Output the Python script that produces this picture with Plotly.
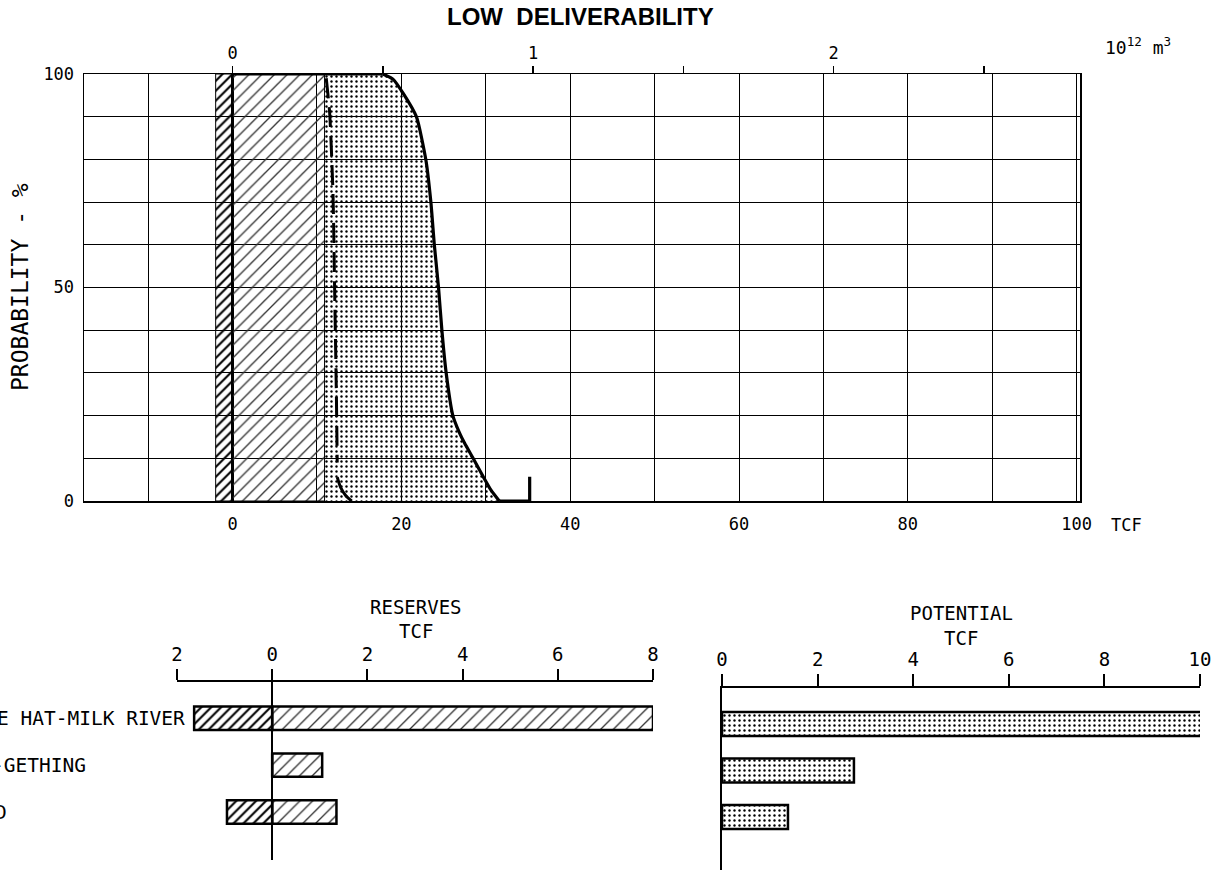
import plotly.graph_objects as go

# ---------------- data ----------------
tcf_tick_vals = [0, 20, 40, 60, 80, 100]
prob_tick_vals = [0, 50, 100]
m3_tick_vals = [0, 1, 2]
tcf_per_1e12_m3 = 35.6

reserves_total_low = -2.0
reserves_total_high = 10.9

total_tcf = [0, 17.8, 19.0, 20.2, 21.8, 22.9, 23.5, 23.9, 24.4, 24.8, 25.3, 26.1,
             26.9, 27.5, 28.5, 29.7, 30.6, 31.6, 35.2, 35.2]
total_prob = [100, 100, 98.8, 95.5, 89.9, 79.9, 69.9, 60.1, 50.0, 40.0, 30.1, 20.0,
              15.9, 13.5, 10.0, 5.7, 2.6, 0, 0, 5.7]

reserve_curve_tcf = [11.1, 11.5, 11.9, 12.1, 12.3, 12.4]
reserve_curve_prob = [99, 91, 72, 48.6, 25, 9]
reserve_tail_tcf = [12.4, 12.8, 13.4, 14.1]
reserve_tail_prob = [5.6, 3.2, 1.3, 0]

field_labels = ["E HAT-MILK RIVER", "-GETHING", "D"]
reserves_low = [-1.64, 0.0, -0.95]
reserves_high = [8.0, 1.05, 1.35]
reserves_tick_vals = [-2, 0, 2, 4, 6, 8]
reserves_tick_text = ["2", "0", "2", "4", "6", "8"]

potential = [10.1, 2.76, 1.38]
potential_tick_vals = [0, 2, 4, 6, 8, 10]

# ---------------- layout helpers ----------------
W, H = 1230, 874


def px(x):
    return x / W


def py(y):
    return 1 - y / H


FC = "DejaVu Sans Mono, Liberation Mono, monospace"
FT = "Liberation Sans, Arial, sans-serif"
BLACK = "black"
CLEAR = "rgba(0,0,0,0)"

hatch_solid = dict(shape="/", size=7, solidity=0.3, fgcolor=BLACK, bgcolor=CLEAR)
hatch_dash = dict(shape="/", size=9, solidity=0.15, fgcolor="#333", bgcolor=CLEAR)
dots = dict(shape=".", size=5, solidity=0.18, fgcolor=BLACK, bgcolor=CLEAR)

fig = go.Figure()

# --- top chart regions ---
fig.add_trace(go.Scatter(
    x=[reserves_total_low, 0, 0, reserves_total_low, reserves_total_low],
    y=[0, 0, 100, 100, 0], mode="lines", fill="toself", fillcolor=CLEAR,
    fillpattern=hatch_solid, line=dict(color=BLACK, width=1),
    xaxis="x", yaxis="y", showlegend=False, hoverinfo="skip"))
fig.add_trace(go.Scatter(
    x=[0, reserves_total_high, reserves_total_high, 0, 0],
    y=[0, 0, 100, 100, 0], mode="lines", fill="toself", fillcolor=CLEAR,
    fillpattern=hatch_dash, line=dict(color=BLACK, width=1),
    xaxis="x", yaxis="y", showlegend=False, hoverinfo="skip"))

# dotted region between total reserves and the total curve
dot_x = [reserves_total_high, reserves_total_high]
dot_y = [0, 100]
for xv, pv in zip(total_tcf, total_prob):
    if xv > reserves_total_high:
        dot_x.append(xv)
        dot_y.append(pv)
        if pv == 0:
            break
dot_x.append(reserves_total_high)
dot_y.append(0)
fig.add_trace(go.Scatter(
    x=dot_x, y=dot_y, mode="lines", fill="toself", fillcolor=CLEAR,
    line=dict(width=0, color=CLEAR), fillpattern=dots,
    xaxis="x", yaxis="y", showlegend=False, hoverinfo="skip"))

# reserves curve (dashed) and its solid tail
fig.add_trace(go.Scatter(
    x=reserve_curve_tcf, y=reserve_curve_prob, mode="lines",
    line=dict(color=BLACK, width=3, dash="20px,9px", shape="spline", smoothing=0.6),
    xaxis="x", yaxis="y", showlegend=False, hoverinfo="skip"))
fig.add_trace(go.Scatter(
    x=reserve_tail_tcf, y=reserve_tail_prob, mode="lines",
    line=dict(color=BLACK, width=3, shape="spline", smoothing=0.6),
    xaxis="x", yaxis="y", showlegend=False, hoverinfo="skip"))

# total curve: straight top, smooth drop, straight foot
knee_top = 1
knee_bot = total_prob.index(0)
fig.add_trace(go.Scatter(
    x=total_tcf[:knee_top + 1], y=total_prob[:knee_top + 1], mode="lines",
    line=dict(color=BLACK, width=3.2),
    xaxis="x", yaxis="y", showlegend=False, hoverinfo="skip"))
fig.add_trace(go.Scatter(
    x=total_tcf[knee_top:knee_bot + 1], y=total_prob[knee_top:knee_bot + 1], mode="lines",
    line=dict(color=BLACK, width=3.2, shape="spline", smoothing=0.5),
    xaxis="x", yaxis="y", showlegend=False, hoverinfo="skip"))
fig.add_trace(go.Scatter(
    x=total_tcf[knee_bot:], y=total_prob[knee_bot:], mode="lines",
    line=dict(color=BLACK, width=3.2),
    xaxis="x", yaxis="y", showlegend=False, hoverinfo="skip"))

# invisible carrier so the 10^12 m^3 axis is drawn
fig.add_trace(go.Scatter(
    x=m3_tick_vals, y=[100] * len(m3_tick_vals), mode="markers",
    marker=dict(opacity=0, size=1), xaxis="x2", yaxis="y",
    showlegend=False, hoverinfo="skip"))

# --- reserves bars ---
ypos = list(range(len(field_labels)))
fig.add_trace(go.Bar(
    y=ypos, x=reserves_low, base=0, orientation="h", width=0.5,
    marker=dict(color="white", line=dict(color=BLACK, width=2.5), pattern=hatch_solid),
    xaxis="x3", yaxis="y3", showlegend=False, hoverinfo="skip", cliponaxis=False))
fig.add_trace(go.Bar(
    y=ypos, x=reserves_high, base=0, orientation="h", width=0.5,
    marker=dict(color="white", line=dict(color=BLACK, width=2.5), pattern=hatch_dash),
    xaxis="x3", yaxis="y3", showlegend=False, hoverinfo="skip", cliponaxis=False))

# --- potential bars ---
fig.add_trace(go.Bar(
    y=ypos, x=potential, base=0, orientation="h", width=0.52,
    marker=dict(color="white", line=dict(color=BLACK, width=2.5), pattern=dots),
    xaxis="x4", yaxis="y4", showlegend=False, hoverinfo="skip", cliponaxis=False))

top_range = [-17.6, 100.4]

fig.update_layout(
    template="none",
    width=W, height=H, margin=dict(l=0, r=0, t=0, b=0, autoexpand=False),
    paper_bgcolor="white", plot_bgcolor=CLEAR, barmode="overlay",
    font=dict(family=FC, size=17, color=BLACK),
    xaxis=dict(domain=[px(84), px(1080)], range=top_range, tickvals=tcf_tick_vals,
               showgrid=True, gridcolor=BLACK, gridwidth=1,
               minor=dict(dtick=10, tick0=0, showgrid=True, gridcolor=BLACK, gridwidth=1),
               showline=True, linecolor=BLACK, linewidth=1.5, mirror=True,
               zeroline=True, zerolinecolor=BLACK, zerolinewidth=2.5,
               ticks="", ticklabelstandoff=7, tickfont=dict(size=17),
               anchor="y", fixedrange=True, automargin=False),
    yaxis=dict(domain=[py(501), py(74)], range=[0, 100], tickvals=prob_tick_vals,
               showgrid=False,
               minor=dict(dtick=10, tick0=0, showgrid=True, gridcolor=BLACK, gridwidth=1),
               showline=True, linecolor=BLACK, linewidth=1.5, mirror=True,
               zeroline=False, ticks="", ticklabelstandoff=5, tickfont=dict(size=17),
               anchor="x", fixedrange=True, automargin=False),
    xaxis2=dict(overlaying="x", side="top", anchor="y",
                range=[v / tcf_per_1e12_m3 for v in top_range],
                tickvals=m3_tick_vals,
                ticks="outside", ticklen=7, tickwidth=1.5, tickcolor=BLACK,
                minor=dict(dtick=0.5, tick0=0, ticks="outside", ticklen=7, tickwidth=1.5,
                           tickcolor=BLACK, showgrid=False),
                showgrid=False, zeroline=False, showline=False,
                tickfont=dict(size=17), fixedrange=True, automargin=False),
    xaxis3=dict(domain=[px(177), px(653)], range=[-2, 8], side="top", anchor="y3",
                tickvals=reserves_tick_vals, ticktext=reserves_tick_text,
                ticks="outside", ticklen=11, tickwidth=2, tickcolor=BLACK,
                showline=True, linecolor=BLACK, linewidth=2,
                showgrid=False, zeroline=True, zerolinecolor=BLACK, zerolinewidth=2.5,
                tickfont=dict(size=19), fixedrange=True, automargin=False),
    yaxis3=dict(domain=[py(860), py(682)], range=[3.02, -0.77], anchor="x3",
                showticklabels=False, ticks="", showgrid=False, zeroline=False,
                showline=False, fixedrange=True, automargin=False),
    xaxis4=dict(domain=[px(722), px(1200)], range=[0, 10], side="top", anchor="y4",
                tickvals=potential_tick_vals,
                ticks="outside", ticklen=12, tickwidth=2, tickcolor=BLACK,
                showline=True, linecolor=BLACK, linewidth=2,
                showgrid=False, zeroline=False,
                tickfont=dict(size=19), fixedrange=True, automargin=False),
    yaxis4=dict(domain=[py(870), py(688)], range=[3.14, -0.774], anchor="x4",
                showticklabels=False, ticks="", showgrid=False, zeroline=False,
                showline=True, linecolor=BLACK, linewidth=2.5, fixedrange=True,
                automargin=False),
)

ann = []


def add_text(text, x, y, size=19, family=FC, xanchor="center", textangle=0, weight=None):
    f = dict(size=size, family=family, color=BLACK)
    if weight:
        f["weight"] = weight
    ann.append(dict(text=text, x=px(x), y=py(y), xref="paper", yref="paper",
                    xanchor=xanchor, yanchor="middle", showarrow=False,
                    textangle=textangle, font=f))


add_text("LOW  DELIVERABILITY", 580, 16, size=24, family=FT, weight=600)
add_text("10<sup>12</sup> m<sup>3</sup>", 1138, 46, size=18)
add_text("PROBABILITY - %", 20, 287, size=23, textangle=-90)
add_text("TCF", 1126, 525, size=17)
add_text("RESERVES", 416, 607, size=19)
add_text("TCF", 416, 631, size=19)
add_text("POTENTIAL", 961, 613, size=19)
add_text("TCF", 961, 638, size=19)

for i, lab in enumerate(field_labels):
    ann.append(dict(text=lab, x=[-5, -10, -7][i] / W, y=i, xref="paper", yref="y3",
                    xanchor="left", yanchor="middle", showarrow=False,
                    font=dict(size=19.5, family=FC, color=BLACK)))

fig.update_layout(annotations=ann)

fig.write_html(
    "out.html",
    config={"displayModeBar": False, "staticPlot": True},
    post_script="document.documentElement.style.margin='0';"
                "document.body.style.margin='0';"
                "document.body.style.overflow='hidden';")
